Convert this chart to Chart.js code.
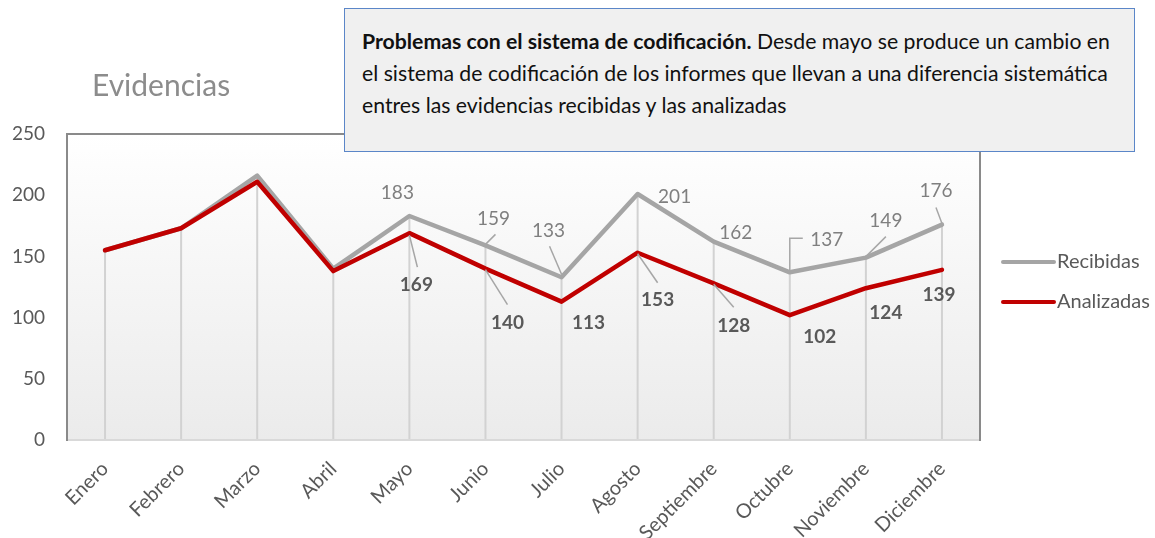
<!DOCTYPE html>
<html><head><meta charset="utf-8">
<script src="https://cdn.jsdelivr.net/npm/chart.js@4"></script>
<style>
html,body{margin:0;padding:0;background:#fff;}
#wrap{position:relative;width:1155px;height:538px;overflow:hidden;}
#c{position:absolute;left:0;top:0;}
#note{position:absolute;left:344px;top:8px;width:791px;height:144px;box-sizing:border-box;border:1.5px solid #5b86c8;background:#f0f0f0;font-family:Lato,sans-serif;font-size:19px;line-height:32px;padding:16px 0 0 17px;color:#111;white-space:nowrap;}
#note b{font-weight:700;}
</style></head>
<body><div id="wrap"><canvas id="c" width="1155" height="538"></canvas>
<div id="note"><span id="l1"><b>Problemas con el sistema de codificación.</b> Desde mayo se produce un cambio en</span><br>el sistema de codificación de los informes que llevan a una diferencia sistemática<br>entres las evidencias recibidas y las analizadas</div></div>
<script>
const categories = ['Enero','Febrero','Marzo','Abril','Mayo','Junio','Julio','Agosto','Septiembre','Octubre','Noviembre','Diciembre'];
const recibidas = [155,173,216,140,183,159,133,201,162,137,149,176];
const analizadas = [155,173,211,138,169,140,113,153,128,102,124,139];
const yTicks = [0,50,100,150,200,250];
const titleText = 'Evidencias';
const labelFrom = 4;

// label placement (pixels relative to point), styling only
const recOffsets = [null,null,null,null,[-12,-23],[8,-27],[-13,-46],[37,3],[22,-9],[37,-32],[20,-37],[-6,-34]];
const recLeaders = [null,null,null,null,null,[[0,-1],[10,-11]],[[-12,-31],[0,-3]],null,null,[[0,-1],[0,-34],[13,-34]],[[0,-1],[20,-21]],[[-6,-17],[0,-1]]];
const anaOffsets = [null,null,null,null,[7,52],[22,54],[27,21],[20,47],[20,43],[30,22],[20,25],[-3,25]];
const anaLeaders = [null,null,null,null,[[0,2],[8,34]],[[0,1],[22,36]],null,[[0,1],[20,30]],[[0,1],[20,24]],null,null,null];

Chart.defaults.font.family = 'Lato, sans-serif';

// fit annotation text width
(function(){
  const cv=document.createElement('canvas').getContext('2d');
  cv.font='700 19px Lato'; let w=cv.measureText('Problemas con el sistema de codificación.').width;
  cv.font='400 19px Lato'; w+=cv.measureText(' Desde mayo se produce un cambio en').width;
  const fs=19*748/w;
  document.getElementById('note').style.fontSize=fs.toFixed(2)+'px';
})();

const decor = {
  id:'decor',
  beforeDatasetsDraw(chart){
    const {ctx, chartArea:a, scales} = chart;
    ctx.save();
    const g = ctx.createLinearGradient(0,a.top,0,a.bottom);
    g.addColorStop(0,'#ffffff'); g.addColorStop(1,'#ebebeb');
    ctx.fillStyle=g; ctx.fillRect(a.left,a.top,a.right-a.left,a.bottom-a.top);
    ctx.strokeStyle='#d2d2d2'; ctx.lineWidth=2;
    categories.forEach((c,i)=>{
      const x=scales.x.getPixelForValue(i);
      const y=scales.y.getPixelForValue(Math.max(recibidas[i],analizadas[i]));
      ctx.beginPath(); ctx.moveTo(x,y); ctx.lineTo(x,a.bottom); ctx.stroke();
    });
    ctx.strokeStyle='#d9d9d9'; ctx.lineWidth=2;
    ctx.beginPath(); ctx.moveTo(a.left,a.bottom); ctx.lineTo(a.right,a.bottom); ctx.stroke();
    ctx.strokeStyle='#8a8a8a'; ctx.lineWidth=2;
    ctx.beginPath(); ctx.moveTo(a.left,a.bottom+1); ctx.lineTo(a.left,a.top); ctx.lineTo(a.right,a.top); ctx.lineTo(a.right,a.bottom+1); ctx.stroke();
    ctx.restore();
  },
  afterDatasetsDraw(chart){
    const {ctx} = chart;
    ctx.save();
    const sets=[
      {meta:chart.getDatasetMeta(0), data:recibidas, off:recOffsets, lead:recLeaders, font:'400 19px Lato', color:'#7f7f7f'},
      {meta:chart.getDatasetMeta(1), data:analizadas, off:anaOffsets, lead:anaLeaders, font:'700 19px Lato', color:'#595959'}
    ];
    sets.forEach(s=>{
      s.data.forEach((v,i)=>{
        if(i<labelFrom||!s.off[i]) return;
        const p=s.meta.data[i];
        const L=s.lead[i];
        if(L){
          ctx.strokeStyle='#a6a6a6'; ctx.lineWidth=1.5; ctx.beginPath();
          L.forEach((q,k)=>{ if(k===0) ctx.moveTo(p.x+q[0],p.y+q[1]); else ctx.lineTo(p.x+q[0],p.y+q[1]); });
          ctx.stroke();
        }
        ctx.font=s.font; ctx.fillStyle=s.color; ctx.textAlign='center'; ctx.textBaseline='middle';
        ctx.fillText(String(v), p.x+s.off[i][0], p.y+s.off[i][1]);
      });
    });
    ctx.font='400 30px Lato'; ctx.fillStyle='#8c8c8c'; ctx.textAlign='left'; ctx.textBaseline='middle';
    ctx.fillText(titleText, 92, 86);
    const legY=[262,302];
    chart.data.datasets.forEach((d,k)=>{
      ctx.strokeStyle=d.borderColor; ctx.lineWidth=4; ctx.lineCap='round';
      ctx.beginPath(); ctx.moveTo(1003,legY[k]); ctx.lineTo(1054,legY[k]); ctx.stroke();
      ctx.font='400 20px Lato'; ctx.fillStyle='#595959'; ctx.textAlign='left'; ctx.textBaseline='middle';
      ctx.fillText(d.label, 1057, legY[k]);
    });
    ctx.restore();
  }
};

new Chart(document.getElementById('c'), {
  type:'line',
  data:{
    labels:categories,
    datasets:[
      {label:'Recibidas', data:recibidas, borderColor:'#a5a5a5', borderWidth:4.5, pointRadius:0, tension:0, order:1, borderCapStyle:'round', borderJoinStyle:'round'},
      {label:'Analizadas', data:analizadas, borderColor:'#c00000', borderWidth:4.5, pointRadius:0, tension:0, order:0, borderCapStyle:'round', borderJoinStyle:'round'}
    ]
  },
  options:{
    responsive:false, animation:false, devicePixelRatio:1,
    layout:{padding:{left:0,right:175,top:134,bottom:0}},
    plugins:{legend:{display:false}, tooltip:{enabled:false}, title:{display:false}},
    scales:{
      x:{
        offset:true,
        grid:{display:false, drawTicks:false}, border:{display:false},
        ticks:{maxRotation:45, minRotation:45, padding:17, color:'#595959', font:{size:20}},
        afterFit(s){ s.height=98; }
      },
      y:{
        min:0, max:250,
        afterBuildTicks(s){ s.ticks = yTicks.map(v=>({value:v})); },
        grid:{display:false, drawTicks:false}, border:{display:false},
        ticks:{padding:22, color:'#595959', font:{size:19}},
        afterFit(s){ s.width=67; }
      }
    }
  },
  plugins:[decor]
});
</script>
</body></html>
